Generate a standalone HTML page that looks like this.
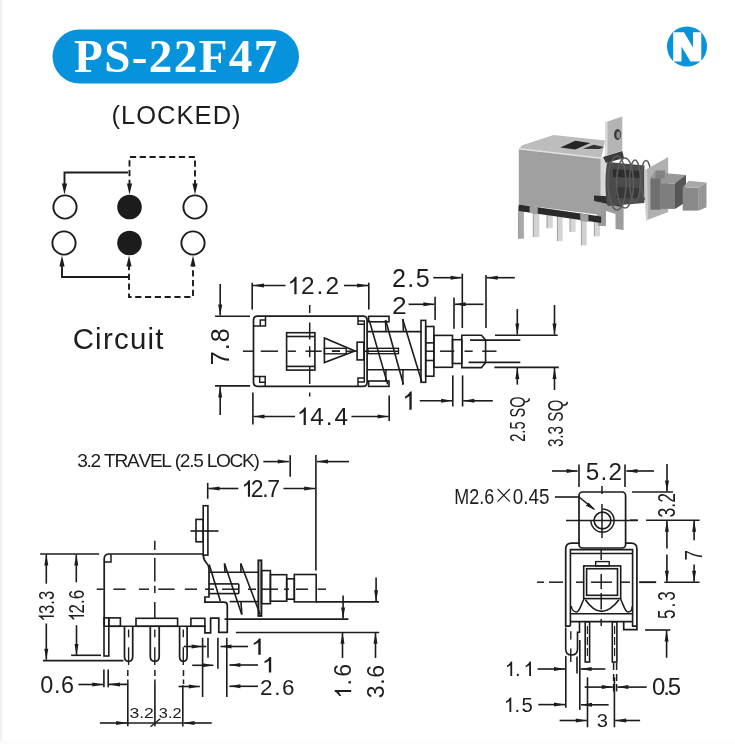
<!DOCTYPE html>
<html><head><meta charset="utf-8"><style>
html,body{margin:0;padding:0;background:#fff;width:735px;height:744px;overflow:hidden}
svg{display:block} text{} .tx{}
</style></head><body>
<svg width="735" height="744" viewBox="0 0 735 744" stroke-linecap="butt">
<defs><filter id="blur" x="-5%" y="-5%" width="110%" height="110%"><feGaussianBlur stdDeviation="0.7"/></filter></defs>
<rect x="0" y="0" width="735" height="744" fill="#fff"/>
<rect x="0" y="0" width="1" height="744" fill="#ededed"/>
<rect x="1" y="0" width="2" height="744" fill="#f8f8f8"/>
<rect x="0" y="741" width="735" height="3" fill="#fcfcfc"/>
<rect x="52.5" y="29.5" width="246.5" height="54" rx="27" fill="#0793dc"/>
<circle cx="687" cy="46.5" r="20" fill="#0793dc"/>
<circle cx="65" cy="207" r="11.6" stroke="#1c1c1c" stroke-width="1.90" fill="#fff"/>
<circle cx="195" cy="207" r="11.6" stroke="#1c1c1c" stroke-width="1.90" fill="#fff"/>
<circle cx="64" cy="243" r="11.6" stroke="#1c1c1c" stroke-width="1.90" fill="#fff"/>
<circle cx="193" cy="243" r="11.6" stroke="#1c1c1c" stroke-width="1.90" fill="#fff"/>
<circle cx="129.5" cy="207" r="12.3" stroke="#1c1c1c" stroke-width="0.00" fill="#1c1c1c"/>
<circle cx="129.5" cy="243" r="12.3" stroke="#1c1c1c" stroke-width="0.00" fill="#1c1c1c"/>
<path d="M128,172.5 H64.5 V186" stroke="#1c1c1c" stroke-width="1.90" fill="none" />
<polygon points="64.5,194.5 61.9,183.5 67.1,183.5" fill="#1c1c1c"/>
<path d="M129.5,186 V157 H195 V186" stroke="#1c1c1c" stroke-width="1.90" fill="none" stroke-dasharray="6.2,3.6"/>
<polygon points="129.5,194.5 126.9,183.5 132.1,183.5" fill="#1c1c1c"/>
<polygon points="195,194.5 192.4,183.5 197.6,183.5" fill="#1c1c1c"/>
<path d="M128,277 H62 V264" stroke="#1c1c1c" stroke-width="1.90" fill="none" />
<polygon points="62,255.5 59.4,266.5 64.6,266.5" fill="#1c1c1c"/>
<path d="M129,264 V297 H193 V264" stroke="#1c1c1c" stroke-width="1.90" fill="none" stroke-dasharray="6.2,3.6"/>
<polygon points="129,255.5 126.4,266.5 131.6,266.5" fill="#1c1c1c"/>
<polygon points="193,255.5 190.4,266.5 195.6,266.5" fill="#1c1c1c"/>
<line x1="215" y1="316.2" x2="250" y2="316.2" stroke="#1c1c1c" stroke-width="1.61"/>
<line x1="215" y1="385.9" x2="250" y2="385.9" stroke="#1c1c1c" stroke-width="1.61"/>
<line x1="220.2" y1="284" x2="220.2" y2="315.5" stroke="#1c1c1c" stroke-width="1.61"/>
<polygon points="220.2,315.5 218.2,304.5 222.2,304.5" fill="#1c1c1c"/>
<line x1="220.2" y1="386.5" x2="220.2" y2="415" stroke="#1c1c1c" stroke-width="1.61"/>
<polygon points="220.2,386.5 218.2,397.5 222.2,397.5" fill="#1c1c1c"/>
<line x1="252.2" y1="282.7" x2="252.2" y2="309.6" stroke="#1c1c1c" stroke-width="1.61"/>
<line x1="368.8" y1="282.7" x2="368.8" y2="309.6" stroke="#1c1c1c" stroke-width="1.61"/>
<line x1="253" y1="285.5" x2="285.5" y2="285.5" stroke="#1c1c1c" stroke-width="1.61"/>
<polygon points="253,285.5 264,283.5 264,287.5" fill="#1c1c1c"/>
<line x1="344" y1="285.5" x2="368.2" y2="285.5" stroke="#1c1c1c" stroke-width="1.61"/>
<polygon points="368.2,285.5 357.2,283.5 357.2,287.5" fill="#1c1c1c"/>
<line x1="252.9" y1="392.4" x2="252.9" y2="424.4" stroke="#1c1c1c" stroke-width="1.61"/>
<line x1="389.2" y1="395.5" x2="389.2" y2="421" stroke="#1c1c1c" stroke-width="1.61"/>
<line x1="253.5" y1="416.5" x2="295" y2="416.5" stroke="#1c1c1c" stroke-width="1.61"/>
<polygon points="253.5,416.5 264.5,414.5 264.5,418.5" fill="#1c1c1c"/>
<line x1="351.4" y1="416.5" x2="388.6" y2="416.5" stroke="#1c1c1c" stroke-width="1.61"/>
<polygon points="388.6,416.5 377.6,414.5 377.6,418.5" fill="#1c1c1c"/>
<line x1="462.3" y1="273.6" x2="462.3" y2="328" stroke="#1c1c1c" stroke-width="1.61"/>
<line x1="486" y1="275" x2="486" y2="328" stroke="#1c1c1c" stroke-width="1.61"/>
<line x1="433.3" y1="277.7" x2="461.6" y2="277.7" stroke="#1c1c1c" stroke-width="1.61"/>
<polygon points="461.6,277.7 450.6,275.7 450.6,279.7" fill="#1c1c1c"/>
<line x1="486.7" y1="277.7" x2="514.8" y2="277.7" stroke="#1c1c1c" stroke-width="1.61"/>
<polygon points="486.7,277.7 497.7,275.7 497.7,279.7" fill="#1c1c1c"/>
<line x1="435.1" y1="296.7" x2="435.1" y2="319.9" stroke="#1c1c1c" stroke-width="1.61"/>
<line x1="454" y1="297.4" x2="454" y2="328.7" stroke="#1c1c1c" stroke-width="1.61"/>
<line x1="408.6" y1="304.3" x2="434.4" y2="304.3" stroke="#1c1c1c" stroke-width="1.61"/>
<polygon points="434.4,304.3 423.4,302.3 423.4,306.3" fill="#1c1c1c"/>
<line x1="454.7" y1="304.3" x2="483.5" y2="304.3" stroke="#1c1c1c" stroke-width="1.61"/>
<polygon points="454.7,304.3 465.7,302.3 465.7,306.3" fill="#1c1c1c"/>
<line x1="452.8" y1="375.4" x2="452.8" y2="406.5" stroke="#1c1c1c" stroke-width="1.61"/>
<line x1="462.6" y1="375.4" x2="462.6" y2="406.5" stroke="#1c1c1c" stroke-width="1.61"/>
<line x1="419.8" y1="400.8" x2="452.1" y2="400.8" stroke="#1c1c1c" stroke-width="1.61"/>
<polygon points="452.1,400.8 441.1,398.8 441.1,402.8" fill="#1c1c1c"/>
<line x1="463.3" y1="400.8" x2="492.8" y2="400.8" stroke="#1c1c1c" stroke-width="1.61"/>
<polygon points="463.3,400.8 474.3,398.8 474.3,402.8" fill="#1c1c1c"/>
<line x1="495" y1="335.2" x2="557.7" y2="335.2" stroke="#1c1c1c" stroke-width="1.61"/>
<line x1="494.4" y1="367.4" x2="558.8" y2="367.4" stroke="#1c1c1c" stroke-width="1.61"/>
<line x1="470" y1="340.1" x2="520.3" y2="340.1" stroke="#1c1c1c" stroke-width="1.61"/>
<line x1="468.6" y1="362.4" x2="520.3" y2="362.4" stroke="#1c1c1c" stroke-width="1.61"/>
<line x1="517.3" y1="309" x2="517.3" y2="334.6" stroke="#1c1c1c" stroke-width="1.61"/>
<polygon points="517.3,334.6 515.3,323.6 519.3,323.6" fill="#1c1c1c"/>
<line x1="517.3" y1="368" x2="517.3" y2="384.6" stroke="#1c1c1c" stroke-width="1.61"/>
<polygon points="517.3,368 515.3,379 519.3,379" fill="#1c1c1c"/>
<line x1="554.5" y1="305" x2="554.5" y2="334.6" stroke="#1c1c1c" stroke-width="1.61"/>
<polygon points="554.5,334.6 552.5,323.6 556.5,323.6" fill="#1c1c1c"/>
<line x1="554.5" y1="368" x2="554.5" y2="390" stroke="#1c1c1c" stroke-width="1.61"/>
<polygon points="554.5,368 552.5,379 556.5,379" fill="#1c1c1c"/>
<path d="M257.5,316.2 H363 Q367.1,316.2 367.1,320.3 V382.2 Q367.1,386.3 363,386.3 H257.5 Q253.5,386.3 253.5,382.3 V320.2 Q253.5,316.2 257.5,316.2 Z" stroke="#1c1c1c" stroke-width="1.72" fill="none" />
<path d="M358,320.9 H364.3 V382 H358" stroke="#1c1c1c" stroke-width="1.49" fill="none" />
<path d="M253.5,326 H265.5 V316.2" stroke="#1c1c1c" stroke-width="1.49" fill="none" />
<path d="M260.3,326 V320 H265.5" stroke="#1c1c1c" stroke-width="1.49" fill="none" />
<path d="M253.5,376.5 H265.2 V386.3" stroke="#1c1c1c" stroke-width="1.49" fill="none" />
<path d="M259.7,376.5 V382.2 H265.2" stroke="#1c1c1c" stroke-width="1.49" fill="none" />
<path d="M364.3,324.3 H358 V316.2" stroke="#1c1c1c" stroke-width="1.49" fill="none" />
<path d="M364.3,378 H358 V386.3" stroke="#1c1c1c" stroke-width="1.49" fill="none" />
<rect x="286.6" y="332.7" width="28.3" height="37.4" rx="0" stroke="#1c1c1c" stroke-width="1.61" fill="none"/>
<line x1="286.6" y1="336.5" x2="314.9" y2="336.5" stroke="#1c1c1c" stroke-width="1.61"/>
<line x1="286.6" y1="366.4" x2="314.9" y2="366.4" stroke="#1c1c1c" stroke-width="1.61"/>
<path d="M324.4,338.1 L355,351 L324.4,362.6 Z" stroke="#1c1c1c" stroke-width="1.61" fill="none" />
<rect x="324.4" y="348.3" width="21.8" height="5.5" rx="0" stroke="#1c1c1c" stroke-width="1.38" fill="none"/>
<rect x="357.1" y="342.2" width="6.8" height="17.7" rx="0" stroke="#1c1c1c" stroke-width="1.61" fill="none"/>
<line x1="309.7" y1="305" x2="309.7" y2="313" stroke="#1c1c1c" stroke-width="1.49"/>
<line x1="309.7" y1="322.5" x2="309.7" y2="339.5" stroke="#1c1c1c" stroke-width="1.49"/>
<line x1="309.7" y1="346.3" x2="309.7" y2="357.2" stroke="#1c1c1c" stroke-width="1.49"/>
<line x1="309.7" y1="366.7" x2="309.7" y2="384" stroke="#1c1c1c" stroke-width="1.49"/>
<line x1="309.7" y1="392.5" x2="309.7" y2="396.5" stroke="#1c1c1c" stroke-width="1.49"/>
<line x1="242.9" y1="351.2" x2="253" y2="351.2" stroke="#1c1c1c" stroke-width="1.49"/>
<line x1="260.7" y1="351.2" x2="278" y2="351.2" stroke="#1c1c1c" stroke-width="1.49"/>
<line x1="287.7" y1="351.2" x2="295.9" y2="351.2" stroke="#1c1c1c" stroke-width="1.49"/>
<line x1="305.4" y1="351.2" x2="321.7" y2="351.2" stroke="#1c1c1c" stroke-width="1.49"/>
<line x1="346.2" y1="351.2" x2="357" y2="351.2" stroke="#1c1c1c" stroke-width="1.49"/>
<line x1="364" y1="351.2" x2="398.5" y2="351.2" stroke="#1c1c1c" stroke-width="1.49"/>
<line x1="425" y1="351.2" x2="433" y2="351.2" stroke="#1c1c1c" stroke-width="1.49"/>
<line x1="440" y1="351.2" x2="454.3" y2="351.2" stroke="#1c1c1c" stroke-width="1.49"/>
<line x1="464.5" y1="351.2" x2="472.7" y2="351.2" stroke="#1c1c1c" stroke-width="1.49"/>
<line x1="482.2" y1="351.2" x2="496.5" y2="351.2" stroke="#1c1c1c" stroke-width="1.49"/>
<line x1="331.9" y1="351.1" x2="340" y2="351.1" stroke="#1c1c1c" stroke-width="1.84"/>
<rect x="368.6" y="316.3" width="20.4" height="5.5" rx="0" stroke="#1c1c1c" stroke-width="1.61" fill="none"/>
<rect x="368.6" y="381" width="20.4" height="5.4" rx="0" stroke="#1c1c1c" stroke-width="1.61" fill="none"/>
<line x1="368" y1="331.6" x2="421.7" y2="331.6" stroke="#1c1c1c" stroke-width="1.61"/>
<line x1="368" y1="369.7" x2="421.7" y2="369.7" stroke="#1c1c1c" stroke-width="1.61"/>
<rect x="368" y="348.3" width="30.5" height="5.4" rx="0" stroke="#1c1c1c" stroke-width="1.38" fill="none"/>
<line x1="369.3" y1="320.4" x2="387.7" y2="384.4" stroke="#1c1c1c" stroke-width="1.61"/>
<line x1="385.6" y1="320" x2="403.3" y2="384" stroke="#1c1c1c" stroke-width="1.61"/>
<line x1="402.6" y1="319" x2="421.7" y2="381.6" stroke="#1c1c1c" stroke-width="1.61"/>
<rect x="421" y="320.4" width="4.7" height="61.9" rx="0" stroke="#1c1c1c" stroke-width="1.61" fill="none"/>
<rect x="425.7" y="326.5" width="8.2" height="49.7" rx="0" stroke="#1c1c1c" stroke-width="1.61" fill="none"/>
<line x1="425.7" y1="342.9" x2="433.9" y2="342.9" stroke="#1c1c1c" stroke-width="1.61"/>
<line x1="425.7" y1="360.5" x2="433.9" y2="360.5" stroke="#1c1c1c" stroke-width="1.61"/>
<rect x="433.9" y="335.4" width="18.6" height="31.9" rx="0" stroke="#1c1c1c" stroke-width="1.61" fill="none"/>
<rect x="452.5" y="339.7" width="9.3" height="23.8" rx="0" stroke="#1c1c1c" stroke-width="1.61" fill="none"/>
<path d="M461.8,335.2 H481.5 L485.6,340 V362.5 L481.5,367.6 H461.8 Z" stroke="#1c1c1c" stroke-width="1.61" fill="none" />
<line x1="385.4" y1="320.5" x2="386" y2="331.5" stroke="#1c1c1c" stroke-width="1.49"/>
<line x1="402.9" y1="319.4" x2="403.4" y2="331.5" stroke="#1c1c1c" stroke-width="1.49"/>
<line x1="386" y1="369.5" x2="385.7" y2="381.7" stroke="#1c1c1c" stroke-width="1.49"/>
<line x1="403" y1="369.5" x2="402.8" y2="385" stroke="#1c1c1c" stroke-width="1.49"/>
<line x1="263.3" y1="461.6" x2="288.8" y2="461.6" stroke="#1c1c1c" stroke-width="1.61"/>
<polygon points="288.8,461.6 277.8,459.6 277.8,463.6" fill="#1c1c1c"/>
<line x1="290.2" y1="455.2" x2="290.2" y2="476.7" stroke="#1c1c1c" stroke-width="1.61"/>
<line x1="315.9" y1="455" x2="315.9" y2="570.6" stroke="#1c1c1c" stroke-width="1.61"/>
<line x1="317" y1="461.6" x2="349" y2="461.6" stroke="#1c1c1c" stroke-width="1.61"/>
<polygon points="317,461.6 328,459.6 328,463.6" fill="#1c1c1c"/>
<line x1="207.7" y1="482.9" x2="207.7" y2="498.8" stroke="#1c1c1c" stroke-width="1.61"/>
<line x1="208.5" y1="488.5" x2="238.3" y2="488.5" stroke="#1c1c1c" stroke-width="1.61"/>
<polygon points="208.5,488.5 219.5,486.5 219.5,490.5" fill="#1c1c1c"/>
<line x1="283.4" y1="488.5" x2="315.2" y2="488.5" stroke="#1c1c1c" stroke-width="1.61"/>
<polygon points="315.2,488.5 304.2,486.5 304.2,490.5" fill="#1c1c1c"/>
<line x1="40.2" y1="554" x2="99.1" y2="554" stroke="#1c1c1c" stroke-width="1.61"/>
<line x1="46.3" y1="554.5" x2="46.3" y2="583.7" stroke="#1c1c1c" stroke-width="1.61"/>
<polygon points="46.3,554.5 44.3,565.5 48.3,565.5" fill="#1c1c1c"/>
<line x1="76.3" y1="554.5" x2="76.3" y2="582.3" stroke="#1c1c1c" stroke-width="1.61"/>
<polygon points="76.3,554.5 74.3,565.5 78.3,565.5" fill="#1c1c1c"/>
<line x1="46.3" y1="623.5" x2="46.3" y2="659.8" stroke="#1c1c1c" stroke-width="1.61"/>
<polygon points="46.3,659.8 44.3,648.8 48.3,648.8" fill="#1c1c1c"/>
<line x1="76.5" y1="625.2" x2="76.5" y2="655" stroke="#1c1c1c" stroke-width="1.61"/>
<polygon points="76.5,655 74.5,644 78.5,644" fill="#1c1c1c"/>
<line x1="71.1" y1="655.3" x2="101" y2="655.3" stroke="#1c1c1c" stroke-width="1.61"/>
<line x1="42.9" y1="660.6" x2="123.5" y2="660.6" stroke="#1c1c1c" stroke-width="1.61"/>
<path d="M203.2,554 H109.2 Q104.2,554 104.2,559 V626.3" stroke="#1c1c1c" stroke-width="1.72" fill="none" />
<path d="M104.2,562 H111 V554" stroke="#1c1c1c" stroke-width="1.49" fill="none" />
<rect x="203.2" y="505.7" width="4.7" height="49.4" rx="0" stroke="#1c1c1c" stroke-width="1.61" fill="none"/>
<rect x="196" y="519.4" width="7.2" height="22.4" rx="0" stroke="#1c1c1c" stroke-width="1.61" fill="none"/>
<line x1="190.5" y1="531" x2="218.5" y2="531" stroke="#1c1c1c" stroke-width="1.61"/>
<path d="M203.2,555 C203.5,559 204.5,561 206.5,563 C208.5,565 209,566 209,569 V597 H204.9 V602.2 H224 Q227.3,602.2 227.3,605.5 V632.4 H218.8 V618.2 H210.6 V632.9 H204.9 V625.5" stroke="#1c1c1c" stroke-width="1.72" fill="none" />
<rect x="104" y="617.9" width="4.8" height="38.1" rx="0" stroke="#1c1c1c" stroke-width="1.61" fill="none"/>
<rect x="108.8" y="617.9" width="11.6" height="8.4" rx="0" stroke="#1c1c1c" stroke-width="1.61" fill="none"/>
<rect x="136" y="618.3" width="41.6" height="8" rx="0" stroke="#1c1c1c" stroke-width="1.61" fill="none"/>
<rect x="190.9" y="618.3" width="14" height="8" rx="0" stroke="#1c1c1c" stroke-width="1.61" fill="none"/>
<line x1="104.2" y1="626.3" x2="204.9" y2="626.3" stroke="#1c1c1c" stroke-width="1.61"/>
<path d="M124.5,626.3 V656.5 Q124.5,661.3 128.6,661.3 Q132.7,661.3 132.7,656.5 V626.3" stroke="#1c1c1c" stroke-width="1.72" fill="none" />
<line x1="128.6" y1="629.5" x2="128.6" y2="637.3" stroke="#1c1c1c" stroke-width="1.38"/>
<line x1="128.6" y1="647.3" x2="128.6" y2="665" stroke="#1c1c1c" stroke-width="1.38"/>
<path d="M150.3,626.3 V656.5 Q150.3,661.3 154.8,661.3 Q159.2,661.3 159.2,656.5 V626.3" stroke="#1c1c1c" stroke-width="1.72" fill="none" />
<line x1="154.8" y1="629.5" x2="154.8" y2="637.3" stroke="#1c1c1c" stroke-width="1.38"/>
<line x1="154.8" y1="647.3" x2="154.8" y2="665" stroke="#1c1c1c" stroke-width="1.38"/>
<path d="M179.6,626.3 V656.5 Q179.6,661.3 183.3,661.3 Q187.1,661.3 187.1,656.5 V626.3" stroke="#1c1c1c" stroke-width="1.72" fill="none" />
<line x1="183.3" y1="629.5" x2="183.3" y2="637.3" stroke="#1c1c1c" stroke-width="1.38"/>
<line x1="183.3" y1="647.3" x2="183.3" y2="665" stroke="#1c1c1c" stroke-width="1.38"/>
<line x1="154.8" y1="540.8" x2="154.8" y2="550" stroke="#1c1c1c" stroke-width="1.49"/>
<line x1="154.8" y1="558" x2="154.8" y2="581.6" stroke="#1c1c1c" stroke-width="1.49"/>
<line x1="154.8" y1="585.7" x2="154.8" y2="592.9" stroke="#1c1c1c" stroke-width="1.49"/>
<line x1="154.8" y1="602" x2="154.8" y2="618.3" stroke="#1c1c1c" stroke-width="1.49"/>
<line x1="96.7" y1="589.2" x2="103.5" y2="589.2" stroke="#1c1c1c" stroke-width="1.49"/>
<line x1="113.4" y1="589.2" x2="125.6" y2="589.2" stroke="#1c1c1c" stroke-width="1.49"/>
<line x1="138.9" y1="589.2" x2="149" y2="589.2" stroke="#1c1c1c" stroke-width="1.49"/>
<line x1="158.3" y1="589.2" x2="174.6" y2="589.2" stroke="#1c1c1c" stroke-width="1.49"/>
<line x1="184.8" y1="589.2" x2="197" y2="589.2" stroke="#1c1c1c" stroke-width="1.49"/>
<line x1="205" y1="589.2" x2="214" y2="589.2" stroke="#1c1c1c" stroke-width="1.49"/>
<line x1="222" y1="589.2" x2="238" y2="589.2" stroke="#1c1c1c" stroke-width="1.49"/>
<line x1="248" y1="589.2" x2="256" y2="589.2" stroke="#1c1c1c" stroke-width="1.49"/>
<line x1="262" y1="589.2" x2="278" y2="589.2" stroke="#1c1c1c" stroke-width="1.49"/>
<line x1="284" y1="589.2" x2="289" y2="589.2" stroke="#1c1c1c" stroke-width="1.49"/>
<line x1="296" y1="589.2" x2="308" y2="589.2" stroke="#1c1c1c" stroke-width="1.49"/>
<line x1="317.7" y1="589.2" x2="326" y2="589.2" stroke="#1c1c1c" stroke-width="1.49"/>
<line x1="209" y1="572.3" x2="259" y2="572.3" stroke="#1c1c1c" stroke-width="1.61"/>
<line x1="209" y1="583.9" x2="238.8" y2="583.9" stroke="#1c1c1c" stroke-width="1.61"/>
<line x1="209" y1="593.6" x2="238.8" y2="593.6" stroke="#1c1c1c" stroke-width="1.61"/>
<line x1="238.8" y1="583.9" x2="238.8" y2="593.6" stroke="#1c1c1c" stroke-width="1.61"/>
<line x1="229.6" y1="601.6" x2="258.4" y2="601.6" stroke="#1c1c1c" stroke-width="1.61"/>
<line x1="209.2" y1="564.5" x2="220.4" y2="601.2" stroke="#1c1c1c" stroke-width="1.61"/>
<line x1="224.5" y1="563.5" x2="241.8" y2="614.5" stroke="#1c1c1c" stroke-width="1.61"/>
<line x1="240.8" y1="563.5" x2="260.2" y2="614.5" stroke="#1c1c1c" stroke-width="1.61"/>
<line x1="224.5" y1="563.5" x2="225" y2="572" stroke="#1c1c1c" stroke-width="1.61"/>
<line x1="240.8" y1="563.5" x2="241" y2="572" stroke="#1c1c1c" stroke-width="1.61"/>
<line x1="241.8" y1="614.5" x2="241" y2="602" stroke="#1c1c1c" stroke-width="1.61"/>
<rect x="258.4" y="560.4" width="3" height="55.5" rx="0" stroke="#1c1c1c" stroke-width="1.95" fill="none"/>
<rect x="261.6" y="570.6" width="8.8" height="33.1" rx="0" stroke="#1c1c1c" stroke-width="1.61" fill="none"/>
<rect x="270.4" y="574.7" width="16.3" height="26.5" rx="0" stroke="#1c1c1c" stroke-width="1.61" fill="none"/>
<rect x="286.7" y="578.8" width="7.6" height="20.4" rx="0" stroke="#1c1c1c" stroke-width="1.61" fill="none"/>
<rect x="294.3" y="574.5" width="21.9" height="27.4" rx="0" stroke="#1c1c1c" stroke-width="1.61" fill="none"/>
<line x1="316.2" y1="601.9" x2="379" y2="601.9" stroke="#1c1c1c" stroke-width="1.61"/>
<line x1="224.5" y1="619.1" x2="348.4" y2="619.1" stroke="#1c1c1c" stroke-width="1.61"/>
<line x1="235.9" y1="632.5" x2="379.2" y2="632.5" stroke="#1c1c1c" stroke-width="1.61"/>
<line x1="376.1" y1="577.5" x2="376.1" y2="601.3" stroke="#1c1c1c" stroke-width="1.61"/>
<polygon points="376.1,601.3 374.1,590.3 378.1,590.3" fill="#1c1c1c"/>
<line x1="343.1" y1="595.4" x2="343.1" y2="618.5" stroke="#1c1c1c" stroke-width="1.61"/>
<polygon points="343.1,618.5 341.1,607.5 345.1,607.5" fill="#1c1c1c"/>
<line x1="342.5" y1="632.8" x2="342.5" y2="658" stroke="#1c1c1c" stroke-width="1.61"/>
<polygon points="342.5,632.8 340.5,643.8 344.5,643.8" fill="#1c1c1c"/>
<line x1="375.5" y1="632.8" x2="375.5" y2="658" stroke="#1c1c1c" stroke-width="1.61"/>
<polygon points="375.5,632.8 373.5,643.8 377.5,643.8" fill="#1c1c1c"/>
<line x1="103.9" y1="669.5" x2="103.9" y2="687.3" stroke="#1c1c1c" stroke-width="1.61"/>
<line x1="108.2" y1="669.5" x2="108.2" y2="687.3" stroke="#1c1c1c" stroke-width="1.61"/>
<line x1="78.4" y1="684.5" x2="103.3" y2="684.5" stroke="#1c1c1c" stroke-width="1.61"/>
<polygon points="103.3,684.5 92.3,682.5 92.3,686.5" fill="#1c1c1c"/>
<path d="M109,684.4 H127.8 V726.3" stroke="#1c1c1c" stroke-width="1.61" fill="none" />
<polygon points="109,684.4 120,682.4 120,686.4" fill="#1c1c1c"/>
<line x1="127.8" y1="670" x2="127.8" y2="676" stroke="#1c1c1c" stroke-width="1.49"/>
<line x1="127.8" y1="679.5" x2="127.8" y2="684" stroke="#1c1c1c" stroke-width="1.49"/>
<line x1="154.9" y1="670" x2="154.9" y2="676" stroke="#1c1c1c" stroke-width="1.49"/>
<line x1="154.9" y1="679.5" x2="154.9" y2="684" stroke="#1c1c1c" stroke-width="1.49"/>
<line x1="183.5" y1="670" x2="183.5" y2="676" stroke="#1c1c1c" stroke-width="1.49"/>
<line x1="183.5" y1="679.5" x2="183.5" y2="684" stroke="#1c1c1c" stroke-width="1.49"/>
<line x1="154.9" y1="684" x2="154.9" y2="726.3" stroke="#1c1c1c" stroke-width="1.61"/>
<path d="M182.8,685 V726.5" stroke="#1c1c1c" stroke-width="1.61" fill="none" />
<line x1="99.9" y1="723" x2="127.2" y2="723" stroke="#1c1c1c" stroke-width="1.61"/>
<polygon points="127.2,723 116.2,721 116.2,725" fill="#1c1c1c"/>
<line x1="127.8" y1="723" x2="182.8" y2="723" stroke="#1c1c1c" stroke-width="1.61"/>
<line x1="183.5" y1="723" x2="211.7" y2="723" stroke="#1c1c1c" stroke-width="1.61"/>
<polygon points="183.5,723 194.5,721 194.5,725" fill="#1c1c1c"/>
<line x1="150.5" y1="726.8" x2="160.3" y2="718.7" stroke="#1c1c1c" stroke-width="1.38"/>
<line x1="202.6" y1="637.8" x2="202.6" y2="697" stroke="#1c1c1c" stroke-width="1.61"/>
<line x1="208" y1="637.8" x2="208" y2="657.7" stroke="#1c1c1c" stroke-width="1.61"/>
<line x1="217.9" y1="637.8" x2="217.9" y2="668.7" stroke="#1c1c1c" stroke-width="1.61"/>
<line x1="226.8" y1="637.8" x2="226.8" y2="697" stroke="#1c1c1c" stroke-width="1.61"/>
<line x1="183.8" y1="646.5" x2="202.6" y2="646.5" stroke="#1c1c1c" stroke-width="1.61"/>
<polygon points="202.6,646.5 191.6,644.5 191.6,648.5" fill="#1c1c1c"/>
<line x1="202.6" y1="646.5" x2="206.3" y2="646.5" stroke="#1c1c1c" stroke-width="1.61"/>
<line x1="220.5" y1="646.5" x2="248" y2="646.5" stroke="#1c1c1c" stroke-width="1.61"/>
<polygon points="220.5,646.5 231.5,644.5 231.5,648.5" fill="#1c1c1c"/>
<line x1="192.2" y1="665.3" x2="213.4" y2="665.3" stroke="#1c1c1c" stroke-width="1.61"/>
<polygon points="213.4,665.3 202.4,663.3 202.4,667.3" fill="#1c1c1c"/>
<line x1="229.4" y1="665" x2="258" y2="665" stroke="#1c1c1c" stroke-width="1.61"/>
<polygon points="229.4,665 240.4,663 240.4,667" fill="#1c1c1c"/>
<line x1="178.6" y1="686.5" x2="199.8" y2="686.5" stroke="#1c1c1c" stroke-width="1.61"/>
<polygon points="199.8,686.5 188.8,684.5 188.8,688.5" fill="#1c1c1c"/>
<line x1="229.4" y1="686.3" x2="258" y2="686.3" stroke="#1c1c1c" stroke-width="1.61"/>
<polygon points="229.4,686.3 240.4,684.3 240.4,688.3" fill="#1c1c1c"/>
<line x1="497.6" y1="489" x2="509.9" y2="501.7" stroke="#1c1c1c" stroke-width="1.15"/>
<line x1="509.9" y1="489" x2="497.6" y2="501.7" stroke="#1c1c1c" stroke-width="1.15"/>
<line x1="555" y1="497" x2="579" y2="497" stroke="#1c1c1c" stroke-width="1.61"/>
<line x1="579" y1="464.4" x2="579" y2="487" stroke="#1c1c1c" stroke-width="1.61"/>
<line x1="625" y1="464.4" x2="625" y2="487" stroke="#1c1c1c" stroke-width="1.61"/>
<line x1="552" y1="471" x2="577.6" y2="471" stroke="#1c1c1c" stroke-width="1.61"/>
<polygon points="577.6,471 566.6,469 566.6,473" fill="#1c1c1c"/>
<line x1="626.4" y1="471" x2="654" y2="471" stroke="#1c1c1c" stroke-width="1.61"/>
<polygon points="626.4,471 637.4,469 637.4,473" fill="#1c1c1c"/>
<rect x="579" y="492" width="46.6" height="56" rx="3.5" stroke="#1c1c1c" stroke-width="1.72" fill="#fff"/>
<circle cx="602.5" cy="520.5" r="8.4" stroke="#1c1c1c" stroke-width="1.61" fill="none"/>
<path d="M602.5,508.9 A11.6,11.6 0 1,1 590.9,520.5" stroke="#1c1c1c" stroke-width="1.49" fill="none" />
<line x1="566" y1="520.4" x2="637" y2="520.4" stroke="#1c1c1c" stroke-width="1.49"/>
<line x1="602" y1="486" x2="602" y2="494" stroke="#1c1c1c" stroke-width="1.49"/>
<line x1="602" y1="504" x2="602" y2="538" stroke="#1c1c1c" stroke-width="1.49"/>
<line x1="579" y1="497" x2="594" y2="509.2" stroke="#1c1c1c" stroke-width="1.49"/>
<polygon points="595.5,510.3 585.6,505.5 587.4,504.4 588.6,502.6" fill="#1c1c1c"/>
<line x1="632" y1="492" x2="673" y2="492" stroke="#1c1c1c" stroke-width="1.61"/>
<line x1="667" y1="464" x2="667" y2="491.4" stroke="#1c1c1c" stroke-width="1.61"/>
<polygon points="667,491.4 665,480.4 669,480.4" fill="#1c1c1c"/>
<line x1="646.1" y1="520.2" x2="699.6" y2="520.2" stroke="#1c1c1c" stroke-width="1.61"/>
<line x1="630" y1="520.2" x2="638" y2="520.2" stroke="#1c1c1c" stroke-width="1.61"/>
<line x1="666.9" y1="520.8" x2="666.9" y2="548.4" stroke="#1c1c1c" stroke-width="1.61"/>
<polygon points="666.9,520.8 664.9,531.8 668.9,531.8" fill="#1c1c1c"/>
<line x1="666.9" y1="554.4" x2="666.9" y2="581.7" stroke="#1c1c1c" stroke-width="1.61"/>
<polygon points="666.9,581.7 664.9,570.7 668.9,570.7" fill="#1c1c1c"/>
<line x1="694.1" y1="520.8" x2="694.1" y2="540.3" stroke="#1c1c1c" stroke-width="1.61"/>
<polygon points="694.1,520.8 692.1,531.8 696.1,531.8" fill="#1c1c1c"/>
<line x1="694.1" y1="564.5" x2="694.1" y2="581.7" stroke="#1c1c1c" stroke-width="1.61"/>
<polygon points="694.1,581.7 692.1,570.7 696.1,570.7" fill="#1c1c1c"/>
<line x1="664.3" y1="582.3" x2="699.6" y2="582.3" stroke="#1c1c1c" stroke-width="1.61"/>
<line x1="639.7" y1="582.3" x2="656.2" y2="582.3" stroke="#1c1c1c" stroke-width="1.61"/>
<line x1="645.1" y1="630" x2="670.3" y2="630" stroke="#1c1c1c" stroke-width="1.61"/>
<line x1="666.6" y1="630.6" x2="666.6" y2="657.7" stroke="#1c1c1c" stroke-width="1.61"/>
<polygon points="666.6,630.6 664.6,641.6 668.6,641.6" fill="#1c1c1c"/>
<path d="M570.4,626.1 H565.7 V549 Q565.7,543.1 571.5,543.1 H580" stroke="#1c1c1c" stroke-width="1.72" fill="none" />
<path d="M625,543.1 H631.2 Q636.9,543.1 636.9,549 V629.6 H623.7 V621.8" stroke="#1c1c1c" stroke-width="1.72" fill="none" />
<path d="M570.4,626.1 V549.6 H632.6 V626.1 H636.9" stroke="#1c1c1c" stroke-width="1.61" fill="none" />
<line x1="570.4" y1="553.5" x2="632.3" y2="553.5" stroke="#1c1c1c" stroke-width="1.61"/>
<line x1="570.4" y1="613.8" x2="632.3" y2="613.8" stroke="#1c1c1c" stroke-width="1.61"/>
<line x1="570.4" y1="621.6" x2="632.3" y2="621.6" stroke="#1c1c1c" stroke-width="1.61"/>
<rect x="583.7" y="565.9" width="37" height="32.7" rx="0" stroke="#1c1c1c" stroke-width="1.61" fill="none"/>
<rect x="586.6" y="568.7" width="30.9" height="26.6" rx="0" stroke="#1c1c1c" stroke-width="1.61" fill="none"/>
<rect x="595.7" y="561.6" width="13.5" height="4.3" rx="0" stroke="#1c1c1c" stroke-width="1.38" fill="none"/>
<path d="M585.4,599.8 Q601.2,623 619,599.8" stroke="#1c1c1c" stroke-width="1.61" fill="none" />
<path d="M583.9,599 C581,605 579.5,612 576.5,612 C573.5,612 571.3,609 571.3,606" stroke="#1c1c1c" stroke-width="1.49" fill="none" />
<path d="M620.6,599 C623.5,605 625,612 628,612 C631,612 632.3,609 632.3,606" stroke="#1c1c1c" stroke-width="1.49" fill="none" />
<line x1="601.2" y1="549.7" x2="601.2" y2="560" stroke="#1c1c1c" stroke-width="1.49"/>
<line x1="601.2" y1="574" x2="601.2" y2="589" stroke="#1c1c1c" stroke-width="1.49"/>
<line x1="601.2" y1="593" x2="601.2" y2="609.4" stroke="#1c1c1c" stroke-width="1.49"/>
<line x1="601.2" y1="619" x2="601.2" y2="626" stroke="#1c1c1c" stroke-width="1.49"/>
<line x1="537" y1="582.2" x2="544" y2="582.2" stroke="#1c1c1c" stroke-width="1.49"/>
<line x1="549" y1="582.2" x2="563" y2="582.2" stroke="#1c1c1c" stroke-width="1.49"/>
<line x1="576" y1="582.2" x2="584" y2="582.2" stroke="#1c1c1c" stroke-width="1.49"/>
<line x1="591" y1="582.2" x2="612" y2="582.2" stroke="#1c1c1c" stroke-width="1.49"/>
<line x1="620" y1="582.2" x2="630" y2="582.2" stroke="#1c1c1c" stroke-width="1.49"/>
<line x1="639" y1="582.2" x2="656" y2="582.2" stroke="#1c1c1c" stroke-width="1.49"/>
<path d="M565.7,627.5 V649 Q565.7,655 571.6,655 Q577.5,655 577.5,649 V632.2 H579.5 V621.8" stroke="#1c1c1c" stroke-width="1.61" fill="none" />
<line x1="570.8" y1="631.2" x2="570.8" y2="639.6" stroke="#1c1c1c" stroke-width="1.38"/>
<line x1="570.8" y1="648.6" x2="570.8" y2="662" stroke="#1c1c1c" stroke-width="1.38"/>
<rect x="585.2" y="621.8" width="4.4" height="40.2" rx="0" stroke="#1c1c1c" stroke-width="1.61" fill="none"/>
<rect x="612.3" y="621.8" width="4.6" height="40.2" rx="0" stroke="#1c1c1c" stroke-width="1.61" fill="none"/>
<line x1="587.4" y1="626" x2="587.4" y2="634" stroke="#1c1c1c" stroke-width="1.15"/>
<line x1="614.6" y1="626" x2="614.6" y2="634" stroke="#1c1c1c" stroke-width="1.15"/>
<line x1="587.4" y1="637" x2="587.4" y2="645" stroke="#1c1c1c" stroke-width="1.15"/>
<line x1="614.6" y1="637" x2="614.6" y2="645" stroke="#1c1c1c" stroke-width="1.15"/>
<line x1="587.4" y1="648" x2="587.4" y2="656" stroke="#1c1c1c" stroke-width="1.15"/>
<line x1="614.6" y1="648" x2="614.6" y2="656" stroke="#1c1c1c" stroke-width="1.15"/>
<line x1="565.8" y1="656.1" x2="565.8" y2="707.8" stroke="#1c1c1c" stroke-width="1.61"/>
<line x1="577" y1="656.5" x2="577" y2="673.6" stroke="#1c1c1c" stroke-width="1.61"/>
<line x1="579.8" y1="640" x2="579.8" y2="710" stroke="#1c1c1c" stroke-width="1.61"/>
<line x1="537.6" y1="669" x2="565" y2="669" stroke="#1c1c1c" stroke-width="1.61"/>
<polygon points="565,669 554,667 554,671" fill="#1c1c1c"/>
<line x1="580.6" y1="669" x2="605.3" y2="669" stroke="#1c1c1c" stroke-width="1.61"/>
<polygon points="580.6,669 591.6,667 591.6,671" fill="#1c1c1c"/>
<line x1="538.3" y1="704.6" x2="565" y2="704.6" stroke="#1c1c1c" stroke-width="1.61"/>
<polygon points="565,704.6 554,702.6 554,706.6" fill="#1c1c1c"/>
<line x1="581" y1="704.8" x2="608.6" y2="704.8" stroke="#1c1c1c" stroke-width="1.61"/>
<polygon points="581,704.8 592,702.8 592,706.8" fill="#1c1c1c"/>
<line x1="613.6" y1="663" x2="613.6" y2="670" stroke="#1c1c1c" stroke-width="1.49"/>
<line x1="616.6" y1="663" x2="616.6" y2="670" stroke="#1c1c1c" stroke-width="1.49"/>
<line x1="613.6" y1="674" x2="613.6" y2="681" stroke="#1c1c1c" stroke-width="1.49"/>
<line x1="616.6" y1="674" x2="616.6" y2="681" stroke="#1c1c1c" stroke-width="1.49"/>
<line x1="613.6" y1="684" x2="613.6" y2="691.4" stroke="#1c1c1c" stroke-width="1.49"/>
<line x1="616.6" y1="684" x2="616.6" y2="691.4" stroke="#1c1c1c" stroke-width="1.49"/>
<line x1="584.6" y1="687.1" x2="612.8" y2="687.1" stroke="#1c1c1c" stroke-width="1.61"/>
<polygon points="612.8,687.1 601.8,685.1 601.8,689.1" fill="#1c1c1c"/>
<line x1="617.4" y1="687.1" x2="646.7" y2="687.1" stroke="#1c1c1c" stroke-width="1.61"/>
<polygon points="617.4,687.1 628.4,685.1 628.4,689.1" fill="#1c1c1c"/>
<line x1="587.5" y1="677.3" x2="587.5" y2="727.3" stroke="#1c1c1c" stroke-width="1.61"/>
<line x1="614.4" y1="677.3" x2="614.4" y2="727.3" stroke="#1c1c1c" stroke-width="1.61"/>
<line x1="559.6" y1="720.5" x2="586.8" y2="720.5" stroke="#1c1c1c" stroke-width="1.61"/>
<polygon points="586.8,720.5 575.8,718.5 575.8,722.5" fill="#1c1c1c"/>
<line x1="615.2" y1="720.5" x2="640.1" y2="720.5" stroke="#1c1c1c" stroke-width="1.61"/>
<polygon points="615.2,720.5 626.2,718.5 626.2,722.5" fill="#1c1c1c"/>
<polygon points="673.2,32.3 684,32.3 693,47.5 693,32.3 701.3,32.3 701.3,61.5 690.5,61.5 681.5,46.5 681.5,61.5 673.2,61.5" fill="#fff"/>
<g filter="url(#blur)"><rect x="518.2" y="206" width="5.7" height="32.8" rx="0" fill="#a9a9a9" /><line x1="518.6" y1="206" x2="518.6" y2="238.8" stroke="#9a9a9a" stroke-width="0.9"/><rect x="532.9" y="208" width="6.5" height="29.1" rx="0" fill="#d2d2d2" /><line x1="533.3" y1="208" x2="533.3" y2="237.1" stroke="#9a9a9a" stroke-width="0.9"/><rect x="546.7" y="212" width="6.1" height="16.2" rx="0" fill="#d6d6d6" /><line x1="547.1" y1="212" x2="547.1" y2="228.2" stroke="#9a9a9a" stroke-width="0.9"/><rect x="557" y="214" width="5.6" height="27.2" rx="0" fill="#d4d4d4" /><line x1="557.4" y1="214" x2="557.4" y2="241.2" stroke="#9a9a9a" stroke-width="0.9"/><rect x="569.6" y="216" width="6" height="15.9" rx="0" fill="#d6d6d6" /><line x1="570" y1="216" x2="570" y2="231.9" stroke="#9a9a9a" stroke-width="0.9"/><rect x="581" y="218" width="5.7" height="27.3" rx="0" fill="#d0d0d0" /><line x1="581.4" y1="218" x2="581.4" y2="245.3" stroke="#9a9a9a" stroke-width="0.9"/><rect x="594" y="220" width="6" height="16.3" rx="0" fill="#d6d6d6" /><line x1="594.4" y1="220" x2="594.4" y2="236.3" stroke="#9a9a9a" stroke-width="0.9"/><polygon points="595,195 623.6,203.7 623.6,230 615.5,229 615.5,214 606,211 606,226 598,226" fill="#9c9c9c" /><polygon points="518.8,148.7 601.2,158.3 601.2,215 518.8,204.5" fill="#a0a0a0" /><polygon points="518.8,204.5 601.2,216.5 601.2,223 518.8,211" fill="#2a2a2a" /><polygon points="529.6,206 537.8,207.2 537.8,214 529.6,213" fill="#a0a0a0" /><polygon points="580.2,213.5 588.4,214.7 588.4,222 580.2,221" fill="#a0a0a0" /><polygon points="518.8,148.7 522.2,145.3 553.5,135.1 605.2,140.6 601.2,158.3" fill="#bdbdbd" /><polyline points="518.8,148.7 601.2,158.3" stroke="#e2e2e2" stroke-width="1.6" fill="none"/><polygon points="560.3,147.6 575.3,140.8 590.3,143 575.3,149.4" fill="#262626" /><polygon points="582.8,148.7 593.7,144.7 603.9,147.1 599.8,149" fill="#303030" /><polygon points="600.5,158 607,157 607,200 600.5,203" fill="#d9d9d9" /><polygon points="594,195.5 622,197 622,207 594,201" fill="#2e2e2e" /><polygon points="605.3,122.2 622.3,116.6 622.3,150.4 605.3,156" fill="#b4b4b4" /><polygon points="605.3,122.2 607.5,121.5 607.5,155.3 605.3,156" fill="#dedede" /><polygon points="603,157 622.3,151 624,158 606,163" fill="#3a3a3a" /><ellipse cx="617.6" cy="134.5" rx="3.6" ry="5.4" fill="#3a3a3a"/><ellipse cx="618.4" cy="135" rx="2" ry="3.4" fill="#909090"/><polygon points="608,162 644.4,165.5 644.4,203 608,206" fill="#4c4c4c" /><ellipse cx="608" cy="184" rx="2.5" ry="22" fill="#4c4c4c"/><polygon points="613,169 641,171 641,178 613,177" fill="#2e2e2e" /><polygon points="616,187 639,188 639,198 616,198" fill="#393939" /><ellipse cx="617" cy="183" rx="9" ry="27" fill="none" stroke="#5c5c5c" stroke-width="1.5"/><ellipse cx="625" cy="183" rx="8.5" ry="25" fill="none" stroke="#5c5c5c" stroke-width="1.5"/><ellipse cx="635" cy="181" rx="5.5" ry="21" fill="none" stroke="#5c5c5c" stroke-width="1.5"/><ellipse cx="646" cy="180" rx="5.2" ry="19.5" fill="none" stroke="#5c5c5c" stroke-width="1.5"/><polygon points="644.4,170.6 668.2,157 668.2,212 646.1,220.5" fill="#b0b0b0" /><polygon points="644.4,170.6 647,169.2 648.2,219.7 646.1,220.5" fill="#cdcdcd" /><polygon points="650.4,178.3 655.5,170.6 665,170.6 665.7,173.2 686,174.9 683,183 660.6,183.4 660.6,178.3" fill="#989898" /><rect x="655.5" y="170.6" width="9.3" height="7.7" rx="0" fill="#828282" /><rect x="650.4" y="178.3" width="10.2" height="31.4" rx="0" fill="#707070" /><rect x="660.6" y="183.4" width="14.4" height="25.5" rx="0" fill="#7e7e7e" /><polygon points="675,183.4 686,175 686,202 675,208.9" fill="#575757" /><polygon points="682.7,187.6 688.6,180.8 706.5,182.5 698.8,187.6" fill="#a9a9a9" /><rect x="682.7" y="187.6" width="16.1" height="23" rx="0" fill="#8a8a8a" /><polygon points="698.8,187.6 706.5,182.5 706.5,207.2 698.8,210.6" fill="#969696" /></g>
<g opacity="0.995"><g transform="translate(74.09,71.7) scale(1.0000,1)"><text x="0" y="0" font-family="Liberation Serif" font-weight="bold" font-size="47.02" letter-spacing="1.40" fill="#fff" style="white-space:pre;font-kerning:none">PS-22F47</text></g>
<g transform="translate(111.47,123.7) scale(1.0000,1)"><text x="0" y="0" font-family="Liberation Sans" font-weight="normal" font-size="25.51" letter-spacing="1.04" fill="#1c1c1c" style="white-space:pre;font-kerning:none">(LOCKED)</text></g>
<g transform="translate(72.63,349.4) scale(1.0000,1)"><text x="0" y="0" font-family="Liberation Sans" font-weight="normal" font-size="29.43" letter-spacing="1.24" fill="#1c1c1c" style="white-space:pre;font-kerning:none">Circuit</text></g>
<g transform="translate(228.9,365.25) rotate(-90) scale(1.0000,1)"><text x="0" y="0" font-family="Liberation Sans" font-weight="normal" font-size="25.00" letter-spacing="1.11" fill="#1c1c1c" style="white-space:pre;font-kerning:none">7.8</text></g>
<g transform="translate(285.31,294.3) scale(1.0000,1)"><text x="0" y="0" font-family="Liberation Sans" font-weight="normal" font-size="24.43" letter-spacing="2.06" fill="#1c1c1c" style="white-space:pre;font-kerning:none"> 2.2</text><path d="M0.37,0 L0.46,0 L0.46,-0.716 L0.395,-0.716 Q0.37,-0.655 0.31,-0.6 Q0.25,-0.545 0.2,-0.52 L0.2,-0.435 Q0.25,-0.455 0.3,-0.485 Q0.35,-0.515 0.37,-0.54 Z" transform="translate(0,0) scale(24.429)" fill="#1c1c1c"/></g>
<g transform="translate(294.61,424.9) scale(1.0000,1)"><text x="0" y="0" font-family="Liberation Sans" font-weight="normal" font-size="24.43" letter-spacing="1.94" fill="#1c1c1c" style="white-space:pre;font-kerning:none"> 4.4</text><path d="M0.37,0 L0.46,0 L0.46,-0.716 L0.395,-0.716 Q0.37,-0.655 0.31,-0.6 Q0.25,-0.545 0.2,-0.52 L0.2,-0.435 Q0.25,-0.455 0.3,-0.485 Q0.35,-0.515 0.37,-0.54 Z" transform="translate(0,0) scale(24.429)" fill="#1c1c1c"/></g>
<g transform="translate(392.04,286.8) scale(1.0000,1)"><text x="0" y="0" font-family="Liberation Sans" font-weight="normal" font-size="25.14" letter-spacing="1.36" fill="#1c1c1c" style="white-space:pre;font-kerning:none">2.5</text></g>
<g transform="translate(391.98,313.6) scale(1.0671,1)"><text x="0" y="0" font-family="Liberation Sans" font-weight="normal" font-size="24.71" letter-spacing="0.00" fill="#1c1c1c" style="white-space:pre;font-kerning:none">2</text></g>
<g transform="translate(399.85,409.7) scale(1.0134,1)"><text x="0" y="0" font-family="Liberation Sans" font-weight="normal" font-size="25.43" letter-spacing="0.00" fill="#1c1c1c" style="white-space:pre;font-kerning:none"> </text><path d="M0.37,0 L0.46,0 L0.46,-0.716 L0.395,-0.716 Q0.37,-0.655 0.31,-0.6 Q0.25,-0.545 0.2,-0.52 L0.2,-0.435 Q0.25,-0.455 0.3,-0.485 Q0.35,-0.515 0.37,-0.54 Z" transform="translate(0,0) scale(25.429)" fill="#1c1c1c"/></g>
<g transform="translate(525,441.73) rotate(-90) scale(0.6370,1)"><text x="0" y="0" font-family="Liberation Sans" font-weight="normal" font-size="22.86" letter-spacing="0.00" fill="#1c1c1c" style="white-space:pre;font-kerning:none">2.5 SQ</text></g>
<g transform="translate(563.4,447.11) rotate(-90) scale(0.6737,1)"><text x="0" y="0" font-family="Liberation Sans" font-weight="normal" font-size="22.57" letter-spacing="0.00" fill="#1c1c1c" style="white-space:pre;font-kerning:none">3.3 SQ</text></g>
<g transform="translate(77.23,466.8) scale(1.0000,1)"><text x="0" y="0" font-family="Liberation Sans" font-weight="normal" font-size="19.14" letter-spacing="-1.28" fill="#1c1c1c" style="white-space:pre;font-kerning:none">3.2 TRAVEL (2.5 LOCK)</text></g>
<g transform="translate(239.4,496.7) scale(1.0000,1)"><text x="0" y="0" font-family="Liberation Sans" font-weight="normal" font-size="23.00" letter-spacing="-1.39" fill="#1c1c1c" style="white-space:pre;font-kerning:none"> 2.7</text><path d="M0.37,0 L0.46,0 L0.46,-0.716 L0.395,-0.716 Q0.37,-0.655 0.31,-0.6 Q0.25,-0.545 0.2,-0.52 L0.2,-0.435 Q0.25,-0.455 0.3,-0.485 Q0.35,-0.515 0.37,-0.54 Z" transform="translate(0,0) scale(23.000)" fill="#1c1c1c"/></g>
<g transform="translate(53.9,623.13) rotate(-90) scale(0.7717,1)"><text x="0" y="0" font-family="Liberation Sans" font-weight="normal" font-size="21.57" letter-spacing="0.00" fill="#1c1c1c" style="white-space:pre;font-kerning:none"> 3.3</text><path d="M0.37,0 L0.46,0 L0.46,-0.716 L0.395,-0.716 Q0.37,-0.655 0.31,-0.6 Q0.25,-0.545 0.2,-0.52 L0.2,-0.435 Q0.25,-0.455 0.3,-0.485 Q0.35,-0.515 0.37,-0.54 Z" transform="translate(0,0) scale(21.571)" fill="#1c1c1c"/></g>
<g transform="translate(84,622.79) rotate(-90) scale(0.7854,1)"><text x="0" y="0" font-family="Liberation Sans" font-weight="normal" font-size="21.57" letter-spacing="0.00" fill="#1c1c1c" style="white-space:pre;font-kerning:none"> 2.6</text><path d="M0.37,0 L0.46,0 L0.46,-0.716 L0.395,-0.716 Q0.37,-0.655 0.31,-0.6 Q0.25,-0.545 0.2,-0.52 L0.2,-0.435 Q0.25,-0.455 0.3,-0.485 Q0.35,-0.515 0.37,-0.54 Z" transform="translate(0,0) scale(21.571)" fill="#1c1c1c"/></g>
<g transform="translate(351.2,700.63) rotate(-90) scale(1.0000,1)"><text x="0" y="0" font-family="Liberation Sans" font-weight="normal" font-size="23.14" letter-spacing="2.25" fill="#1c1c1c" style="white-space:pre;font-kerning:none"> .6</text><path d="M0.37,0 L0.46,0 L0.46,-0.716 L0.395,-0.716 Q0.37,-0.655 0.31,-0.6 Q0.25,-0.545 0.2,-0.52 L0.2,-0.435 Q0.25,-0.455 0.3,-0.485 Q0.35,-0.515 0.37,-0.54 Z" transform="translate(0,0) scale(23.143)" fill="#1c1c1c"/></g>
<g transform="translate(384,698.32) rotate(-90) scale(1.0000,1)"><text x="0" y="0" font-family="Liberation Sans" font-weight="normal" font-size="23.00" letter-spacing="0.69" fill="#1c1c1c" style="white-space:pre;font-kerning:none">3.6</text></g>
<g transform="translate(40.16,692.6) scale(1.0000,1)"><text x="0" y="0" font-family="Liberation Sans" font-weight="normal" font-size="23.43" letter-spacing="0.71" fill="#1c1c1c" style="white-space:pre;font-kerning:none">0.6</text></g>
<g transform="translate(129.4,717.9) scale(1.1524,1)"><text x="0" y="0" font-family="Liberation Sans" font-weight="normal" font-size="15.29" letter-spacing="0.00" fill="#1c1c1c" style="white-space:pre;font-kerning:none">3.2</text></g>
<g transform="translate(158.85,717.9) scale(1.0669,1)"><text x="0" y="0" font-family="Liberation Sans" font-weight="normal" font-size="15.29" letter-spacing="0.00" fill="#1c1c1c" style="white-space:pre;font-kerning:none">3.2</text></g>
<g transform="translate(248.32,654.7) scale(1.1928,1)"><text x="0" y="0" font-family="Liberation Sans" font-weight="normal" font-size="22.57" letter-spacing="0.00" fill="#1c1c1c" style="white-space:pre;font-kerning:none"> </text><path d="M0.37,0 L0.46,0 L0.46,-0.716 L0.395,-0.716 Q0.37,-0.655 0.31,-0.6 Q0.25,-0.545 0.2,-0.52 L0.2,-0.435 Q0.25,-0.455 0.3,-0.485 Q0.35,-0.515 0.37,-0.54 Z" transform="translate(0,0) scale(22.571)" fill="#1c1c1c"/></g>
<g transform="translate(259.17,672.6) scale(1.1966,1)"><text x="0" y="0" font-family="Liberation Sans" font-weight="normal" font-size="21.86" letter-spacing="0.00" fill="#1c1c1c" style="white-space:pre;font-kerning:none"> </text><path d="M0.37,0 L0.46,0 L0.46,-0.716 L0.395,-0.716 Q0.37,-0.655 0.31,-0.6 Q0.25,-0.545 0.2,-0.52 L0.2,-0.435 Q0.25,-0.455 0.3,-0.485 Q0.35,-0.515 0.37,-0.54 Z" transform="translate(0,0) scale(21.857)" fill="#1c1c1c"/></g>
<g transform="translate(260.08,694.8) scale(1.0000,1)"><text x="0" y="0" font-family="Liberation Sans" font-weight="normal" font-size="22.43" letter-spacing="1.63" fill="#1c1c1c" style="white-space:pre;font-kerning:none">2.6</text></g>
<g transform="translate(454.26,503.7) scale(0.8108,1)"><text x="0" y="0" font-family="Liberation Sans" font-weight="normal" font-size="22.14" letter-spacing="0.00" fill="#1c1c1c" style="white-space:pre;font-kerning:none">M2.6</text></g>
<g transform="translate(512.85,503.7) scale(0.8524,1)"><text x="0" y="0" font-family="Liberation Sans" font-weight="normal" font-size="22.14" letter-spacing="0.00" fill="#1c1c1c" style="white-space:pre;font-kerning:none">0.45</text></g>
<g transform="translate(585.83,479.8) scale(1.0000,1)"><text x="0" y="0" font-family="Liberation Sans" font-weight="normal" font-size="24.29" letter-spacing="1.21" fill="#1c1c1c" style="white-space:pre;font-kerning:none">5.2</text></g>
<g transform="translate(675.1,517.4) rotate(-90) scale(0.7351,1)"><text x="0" y="0" font-family="Liberation Sans" font-weight="normal" font-size="23.86" letter-spacing="0.00" fill="#1c1c1c" style="white-space:pre;font-kerning:none">3.2</text></g>
<g transform="translate(702,560.45) rotate(-90) scale(0.7856,1)"><text x="0" y="0" font-family="Liberation Sans" font-weight="normal" font-size="24.06" letter-spacing="0.00" fill="#1c1c1c" style="white-space:pre;font-kerning:none">7</text></g>
<g transform="translate(674.7,619.08) rotate(-90) scale(0.7200,1)"><text x="0" y="0" font-family="Liberation Sans" font-weight="normal" font-size="23.71" letter-spacing="2.79" fill="#1c1c1c" style="white-space:pre;font-kerning:none">5.3</text></g>
<g transform="translate(502.84,676.1) scale(1.0000,1)"><text x="0" y="0" font-family="Liberation Sans" font-weight="normal" font-size="20.29" letter-spacing="0.95" fill="#1c1c1c" style="white-space:pre;font-kerning:none"> . </text><path d="M0.37,0 L0.46,0 L0.46,-0.716 L0.395,-0.716 Q0.37,-0.655 0.31,-0.6 Q0.25,-0.545 0.2,-0.52 L0.2,-0.435 Q0.25,-0.455 0.3,-0.485 Q0.35,-0.515 0.37,-0.54 Z" transform="translate(0,0) scale(20.286)" fill="#1c1c1c"/><path d="M0.37,0 L0.46,0 L0.46,-0.716 L0.395,-0.716 Q0.37,-0.655 0.31,-0.6 Q0.25,-0.545 0.2,-0.52 L0.2,-0.435 Q0.25,-0.455 0.3,-0.485 Q0.35,-0.515 0.37,-0.54 Z" transform="translate(18.83,0) scale(20.286)" fill="#1c1c1c"/></g>
<g transform="translate(501.94,711.9) scale(1.0000,1)"><text x="0" y="0" font-family="Liberation Sans" font-weight="normal" font-size="20.29" letter-spacing="1.29" fill="#1c1c1c" style="white-space:pre;font-kerning:none"> .5</text><path d="M0.37,0 L0.46,0 L0.46,-0.716 L0.395,-0.716 Q0.37,-0.655 0.31,-0.6 Q0.25,-0.545 0.2,-0.52 L0.2,-0.435 Q0.25,-0.455 0.3,-0.485 Q0.35,-0.515 0.37,-0.54 Z" transform="translate(0,0) scale(20.286)" fill="#1c1c1c"/></g>
<g transform="translate(651.94,695.2) scale(1.0000,1)"><text x="0" y="0" font-family="Liberation Sans" font-weight="normal" font-size="24.00" letter-spacing="-2.12" fill="#1c1c1c" style="white-space:pre;font-kerning:none">0.5</text></g>
<g transform="translate(596.69,727.1) scale(1.0968,1)"><text x="0" y="0" font-family="Liberation Sans" font-weight="normal" font-size="18.43" letter-spacing="0.00" fill="#1c1c1c" style="white-space:pre;font-kerning:none">3</text></g></g>
</svg></body></html>
